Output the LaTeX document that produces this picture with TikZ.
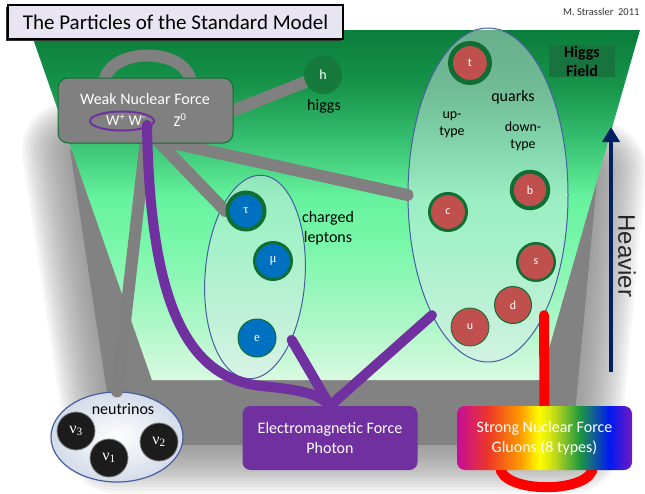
\documentclass[tikz,border=0pt]{standalone}
\usepackage{fontspec}
\setmainfont{Carlito}
\newfontfamily\grserif{Liberation Serif}
\newfontfamily\arialfont{Liberation Sans}
\usetikzlibrary{shapes.geometric,arrows.meta,calc}
\definecolor{qred}{RGB}{192,80,77}
\definecolor{lblue}{RGB}{0,112,192}
\definecolor{bgreen}{RGB}{16,110,50}
\definecolor{hgreen}{RGB}{22,122,60}
\definecolor{hfbox}{RGB}{24,116,62}
\definecolor{wgray}{RGB}{128,128,128}
\definecolor{wpurple}{RGB}{112,48,160}
\definecolor{navyc}{RGB}{0,32,96}
\definecolor{titlebg}{RGB}{232,228,242}
\definecolor{ellfill}{RGB}{220,235,240}
\definecolor{ellline}{RGB}{70,95,160}
\definecolor{shadowc}{RGB}{130,130,130}
\definecolor{nublack}{RGB}{28,28,28}
\definecolor{nuout}{RGB}{212,220,234}
\pgfdeclareverticalshading{greenfield}{100bp}{rgb(0bp)=(0.85,0.98,0.88); rgb(25bp)=(0.85,0.98,0.88); rgb(32bp)=(0.70,0.97,0.79); rgb(44bp)=(0.48,0.97,0.67); rgb(51bp)=(0.40,0.95,0.62); rgb(59bp)=(0.22,0.76,0.45); rgb(67bp)=(0.09,0.58,0.29); rgb(75bp)=(0.04,0.49,0.23); rgb(100bp)=(0.04,0.49,0.23)}
\pgfdeclarehorizontalshading{rainbow}{100bp}{rgb(0bp)=(0.78,0.05,0.6); rgb(25bp)=(0.78,0.05,0.6); rgb(34bp)=(0.93,0.22,0.15); rgb(43bp)=(1,0.6,0); rgb(48.5bp)=(1,1,0); rgb(53bp)=(0.75,0.85,0.1); rgb(60bp)=(0.12,0.6,0.25); rgb(68.5bp)=(0,0.1,0.95); rgb(75bp)=(0.45,0.1,0.75); rgb(100bp)=(0.45,0.1,0.75)}
\pgfdeclarelayer{back}
\pgfdeclarelayer{ells}
\pgfdeclarelayer{links}
\pgfdeclarelayer{front}
\pgfsetlayers{back,ells,links,main,front}
\tikzset{
  grayline/.style={draw=wgray, line width=12pt, line cap=round},
  purpline/.style={draw=wpurple, line width=10pt, line cap=round},
  redline/.style={draw=red, line width=10pt, line cap=round},
  particle/.style={circle, inner sep=0pt, text=white, draw=bgreen},
  quark/.style={particle, fill=qred, font=\fontsize{12}{12}\selectfont},
  lepton/.style={particle, fill=lblue, font=\grserif\fontsize{13}{13}\selectfont},
  neutrino/.style={circle, inner sep=0pt, fill=nublack, draw=gray, line width=0.8pt, minimum size=38pt, text=white, font=\grserif\fontsize{16}{16}\selectfont},
  grpell/.style={ellipse, inner sep=0pt, draw=ellline, line width=1pt, fill=ellfill, fill opacity=0.45},
  lbl/.style={font=\fontsize{16}{20}\selectfont, align=center, text=black},
  smalllbl/.style={font=\fontsize{14}{17}\selectfont, align=center, text=black},
  forcebox/.style={rounded corners=8pt, minimum width=175pt, minimum height=64pt, inner sep=0pt, align=center, text=white, font=\fontsize{16}{20}\selectfont},
}
\begin{document}
\begin{tikzpicture}[x=1pt,y=-1pt]
\useasboundingbox (0,0) rectangle (645,493);
\begin{pgfonlayer}{back}
  \fill[white] (0,0) rectangle (645,493);
  \foreach \w in {96pt,90pt,84pt,78pt,72pt,66pt,60pt,54pt,48pt,42pt,36pt,30pt,24pt,18pt,12pt,6pt}{
    \draw[shadowc, opacity=0.075, line width=\w, line join=round] (70,150) -- (598,170) -- (572,445) -- (115,445) -- cycle;}
  \fill[shadowc] (70,150) -- (598,170) -- (572,445) -- (115,445) -- cycle;
  \shade[shading=greenfield] (30,30) -- (640,30) -- (540,380) -- (152,380) -- cycle;
\end{pgfonlayer}

% title and credit
\fill[black!80] (6,7) rectangle (341,41);
\node[draw=black, line width=1.2pt, fill=titlebg, minimum width=335pt, minimum height=34pt, inner sep=0pt, font=\fontsize{21}{21}\selectfont] (title) at (175.5,22) {The Particles of the Standard Model};
\node[anchor=east, font=\fontsize{10.5}{12}\selectfont, text=black!80] (credit) at (643,12) {M. Strassler\ \ 2011};

% Higgs field label
\node[fill=hfbox, minimum width=66pt, minimum height=32pt, inner sep=0pt, align=center, font=\bfseries\fontsize{16}{19}\selectfont] (hf) at (582,61) {Higgs\\Field};

% group ellipses
\begin{pgfonlayer}{ells}
  \node[grpell, minimum width=160pt, minimum height=334pt] (qell) at (488,195) {};
  \node[grpell, minimum width=100pt, minimum height=204pt, rotate=-4] (lell) at (255,277) {};
  \node[ellipse, inner sep=0pt, draw=ellline, line width=1.2pt, inner color=white, outer color=nuout, minimum width=132pt, minimum height=90pt] (nell) at (117,437) {};
\end{pgfonlayer}

% weak force box
\node[fill=wgray, draw=bgreen, line width=1pt, rounded corners=10pt, minimum width=175pt, minimum height=65pt] (weak) at (145.5,110.5) {};
\node[text=white, font=\fontsize{16}{16}\selectfont] (weaktxt) at (145,99) {Weak Nuclear Force};
\node[ellipse, draw=wpurple, line width=2pt, minimum width=64pt, minimum height=19pt, inner sep=0pt] (wel) at (122,121) {};
\node[text=white, font=\fontsize{15}{15}\selectfont] (wpm) at (126,120) {W\textsuperscript{+} W\textsuperscript{-}};
\node[text=white, font=\fontsize{15}{15}\selectfont] (z0) at (180,120) {Z\textsuperscript{0}};

% higgs
\node[circle, fill=hgreen, minimum size=38pt, inner sep=0pt, text=white, font=\fontsize{14}{14}\selectfont] (h) at (323,75) {h};
\node[lbl] (higgs) at (324,106) {higgs};

% quarks
\node[quark, minimum size=39pt, line width=5pt] (qt) at (470,63) {t};
\node[quark, minimum size=36.5pt, line width=4pt] (qb) at (530,190) {b};
\node[quark, minimum size=37pt, line width=3pt] (qc) at (448,212) {c};
\node[quark, minimum size=37.5pt, line width=2.5pt] (qs) at (536,262) {s};
\node[quark, minimum size=37pt, line width=1pt] (qd) at (513,305) {d};
\node[quark, minimum size=38pt, line width=0.8pt] (qu) at (470,327) {u};
\node[lbl] (qlab) at (513,97) {quarks};
\node[smalllbl] (uplab) at (452,125) {up-\\type};
\node[smalllbl] (downlab) at (523,136) {down-\\type};

% charged leptons
\node[lepton, minimum size=37pt, line width=4pt] (tau) at (246,211) {τ};
\node[lepton, minimum size=37pt, line width=3pt] (mu) at (273,261) {μ};
\node[lepton, minimum size=38pt, line width=1pt] (el) at (257,338) {e};
\node[lbl] (cl) at (328,228) {charged\\leptons};

% neutrinos
\node[neutrino] (n3) at (76,431) {ν\textsubscript{3}};
\node[neutrino] (n1) at (109,458) {ν\textsubscript{1}};
\node[neutrino] (n2) at (159,442) {ν\textsubscript{2}};
\node[lbl] (nulab) at (123,409) {neutrinos};

% force boxes
\node[forcebox, fill=wpurple] (em) at (330,438) {Electromagnetic Force\\Photon};
\node[forcebox, shade, shading=rainbow] (strong) at (544.5,438) {Strong Nuclear Force\\Gluons (8 types)};

% heavier arrow
\coordinate (arrB) at (611,372);
\coordinate (arrT) at (611,127);
\draw[navyc, line width=4pt, -{Triangle[width=17pt,length=15pt]}] (arrB) -- (arrT);
\node[rotate=-90, font=\arialfont\fontsize{24}{24}\selectfont, text=black!85] (heavier) at (627,256) {Heavier};

% gray and red links
\begin{pgfonlayer}{links}
  \draw[grayline] (weak.east) -- (h);
  \draw[grayline] ($(weak.north)+(-41.5,8)$) .. controls +(0,-40) and +(0,-40) .. ($(weak.north)+(45.5,8)$);
  \draw[grayline] (weak.south) -- (nell.north);
  \draw[grayline] ($(weak.south)+(12,-3)$) -- (tau.west);
  \draw[grayline] ($(weak.south)+(16,-3)$) -- (qell.west);
  \draw[redline] (qell.295) -- ($(strong.north)+(0,6)$);
  \draw[redline] ($(strong.south)+(-44.5,-4)$) .. controls +(0,28) and +(0,28) .. ($(strong.south)+(48.5,-4)$);
\end{pgfonlayer}

% purple links
\begin{pgfonlayer}{front}
  \draw[purpline] ($(wel.east)+(-8,4)$) .. controls (150,300) and (185,378) .. (262,386) .. controls (300,390) and (318,393) .. (em.north);
  \draw[purpline] (lell) -- (em.north);
  \draw[purpline] (qell.245) -- (em.north);
\end{pgfonlayer}
\end{tikzpicture}
\end{document}
